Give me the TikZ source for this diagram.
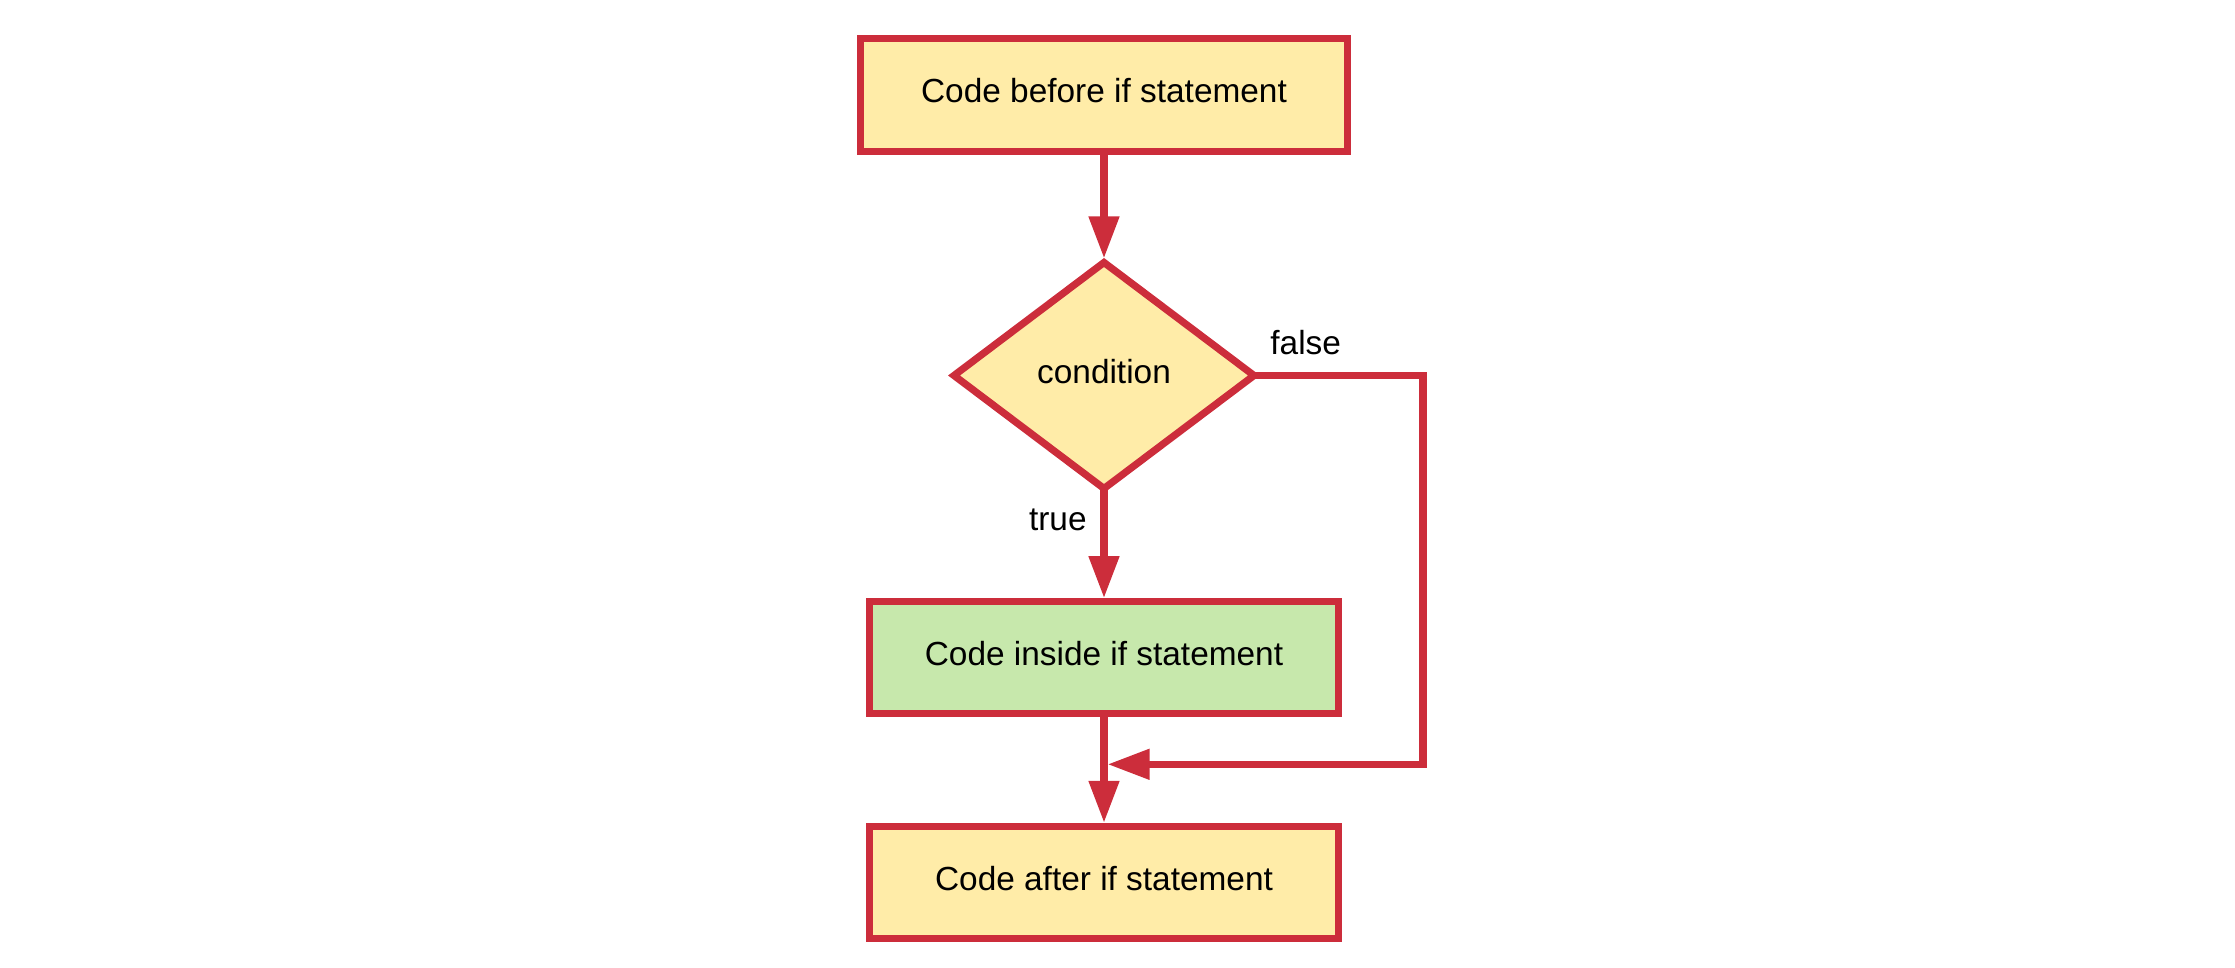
\documentclass[tikz,border=0pt]{standalone}
\usepackage{fontspec}
\setmainfont{Liberation Sans}
\usepackage{tikz}
\usetikzlibrary{arrows.meta}
\usetikzlibrary{shapes.geometric}
\definecolor{ifred}{RGB}{204,45,59}
\definecolor{ifyellow}{RGB}{255,236,168}
\definecolor{ifgreen}{RGB}{199,232,172}
\begin{document}
\begin{tikzpicture}[x=0.5pt,y=-0.5pt]
\tikzset{font=\fontsize{16.7}{20}\selectfont}
\tikzset{block/.style={draw=ifred, line width=3.6pt, fill=ifyellow, inner sep=0pt, minimum width=234.5pt, minimum height=56pt, text height=12pt, text depth=4pt}}
\tikzset{decision/.style={block, diamond, outer sep=0pt, minimum width=150pt, minimum height=113pt}}
\tikzset{flow/.style={draw=ifred, line width=3.8pt, -{Triangle[length=21pt,width=14.5pt]}}}
\tikzset{tag/.style={inner sep=0pt}}
\useasboundingbox (0,0) rectangle (2235,968);
\node[block, minimum width=243.5pt, minimum height=56.5pt] (before) at (1104,95) {Code before if statement};
\node[decision] (cond) at (1104,375.5) {condition};
\node[block, fill=ifgreen] (inside) at (1104,657.8) {Code inside if statement};
\node[block] (after) at (1104,882.5) {Code after if statement};
\coordinate (turn) at (1423,764.3);
\coordinate (join) at (1107.5,764.3);
\draw[flow, shorten >=2pt] (before) -- (cond);
\draw[flow] (cond) -- (inside);
\draw[flow] (inside) -- (after);
\draw[flow] (cond.east) -| (turn) -- (join);
\node[tag, anchor=base west] (falsetag) at ([xshift=8pt,yshift=10.25pt]cond.east) {false};
\node[tag, anchor=base east] (truetag) at ([xshift=-8.5pt,yshift=-21pt]cond.south) {true};
\end{tikzpicture}
\end{document}
